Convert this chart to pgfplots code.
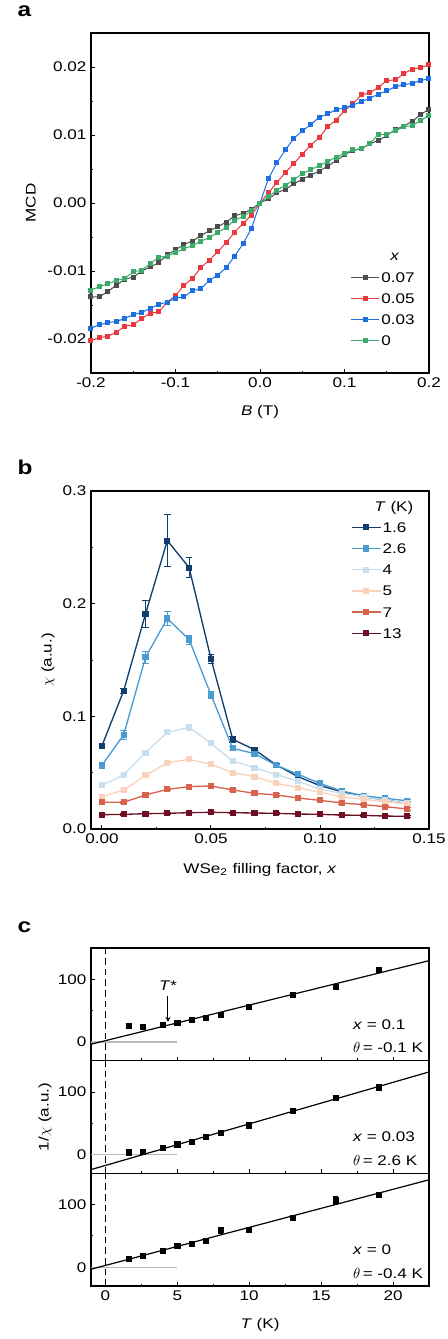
\documentclass[border=0pt]{standalone}
\usepackage{pgfplots}
\pgfplotsset{compat=1.18}
\usepackage{fontspec}
\setmainfont{Liberation Sans}[FakeStretch=1.22]
\definecolor{agray}{HTML}{4D4D4D}
\definecolor{ared}{HTML}{E8393E}
\definecolor{ablue}{HTML}{1F6FE0}
\definecolor{agreen}{HTML}{3BAA6B}
\definecolor{bA}{HTML}{123D6F}
\definecolor{bB}{HTML}{4A9BD0}
\definecolor{bC}{HTML}{C9DFEE}
\definecolor{bD}{HTML}{FAD2BC}
\definecolor{bE}{HTML}{D9624F}
\definecolor{bF}{HTML}{6E0E24}
\pgfplotsset{
  every axis/.append style={
    scale only axis,
    tick align=inside,
    xtick pos=bottom, ytick pos=left,
    axis line style={line width=1pt},
    every tick/.style={line width=0.7pt, black},
    major tick length=3pt, minor tick length=1.8pt,
    /pgf/number format/assume math mode=true,
    tick label style={font=\fontsize{10.5}{12}\selectfont},
    label style={font=\fontsize{10.5}{12}\selectfont},
    scaled ticks=false,
    clip=false,
    legend cell align=left,
    legend image code/.code={\draw[mark repeat=2,mark phase=2,#1] plot coordinates {(0cm,0cm) (0.38cm,0cm) (0.76cm,0cm)};},
  },
  aser/.style={line width=0.75pt, mark=square*, mark size=1.5pt, mark options={solid}},
  bser/.style={line width=1pt, mark=square*, mark size=1.8pt, mark options={solid},
    error bars/.cd, y dir=both, y explicit, error bar style={line width=0.6pt}, error mark options={rotate=90, mark size=2.5pt, line width=0.6pt}, /pgfplots/.cd},
  cser/.style={only marks, mark=square*, mark size=1.9pt, black,
    error bars/.cd, y dir=both, y explicit, error bar style={line width=0.6pt}, error mark options={rotate=90, mark size=2pt, line width=0.6pt}, /pgfplots/.cd},
  cax/.style={width=253.5pt, height=84.5pt, anchor=north west,
    xmin=-1, xmax=22.5, ymin=-30, ymax=150,
    xtick={0,5,10,15,20}, minor xtick={2.5,7.5,12.5,17.5},
    ytick={0,100}, minor ytick={50}},
}
\begin{document}
\begin{tikzpicture}[font=\fontsize{10.5}{12}\selectfont]
\useasboundingbox (0,0) rectangle (335.25pt,-1004.25pt);
% ---------------- panel a ----------------
\node[anchor=base west, font=\fontsize{15}{18}\selectfont\bfseries] at (9.75pt,-12pt) {a};
\begin{axis}[at={(68.25pt,-24.75pt)}, anchor=north west, width=253.5pt, height=255pt,
  xmin=-0.2, xmax=0.2, ymin=-0.025, ymax=0.025,
  xtick={-0.2,-0.1,0,0.1,0.2}, minor xtick={-0.15,-0.05,0.05,0.15},
  ytick={-0.02,-0.01,0,0.01,0.02}, minor ytick={-0.015,-0.005,0.005,0.015},
  xticklabel style={/pgf/number format/.cd,fixed,fixed zerofill,precision=1},
  yticklabel style={/pgf/number format/.cd,fixed,fixed zerofill,precision=2},
  xlabel={\textit{B} (T)}, ylabel={MCD},
  xlabel style={at={(axis description cs:0.5,-0.115)}, anchor=center},
  ylabel style={at={(axis description cs:-0.178,0.5)}, anchor=center},
  legend style={at={(axis description cs:0.962,0.301)}, anchor=north east, draw=none, fill=none, inner sep=0pt, row sep=6.25pt,
    nodes={inner sep=1pt, text height=7.5pt, text depth=0pt, anchor=west}, font=\fontsize{10.5}{12}\selectfont},
]
\addplot[color=agray, aser] coordinates {
(-0.20,-0.0138)(-0.19,-0.0138)(-0.18,-0.0130)(-0.17,-0.0121)(-0.16,-0.0112)(-0.15,-0.0109)(-0.14,-0.0100)(-0.13,-0.0094)(-0.12,-0.0088)(-0.11,-0.0076)(-0.10,-0.0069)(-0.09,-0.0061)(-0.08,-0.0056)(-0.07,-0.0048)(-0.06,-0.0041)(-0.05,-0.0035)(-0.04,-0.0028)(-0.03,-0.0019)(-0.02,-0.0015)(-0.01,-0.0009)(0.00,0.0000)
(0.01,0.0006)(0.02,0.0015)(0.03,0.0020)(0.04,0.0028)(0.05,0.0035)(0.06,0.0041)(0.07,0.0047)(0.08,0.0054)(0.09,0.0062)(0.10,0.0071)(0.11,0.0077)(0.12,0.0080)(0.13,0.0087)(0.14,0.0092)(0.15,0.0099)(0.16,0.0108)(0.17,0.0113)(0.18,0.0120)(0.19,0.0130)(0.20,0.0138)};
\addlegendentry{0.07}
\addplot[color=ared, aser] coordinates {
(-0.20,-0.0202)(-0.19,-0.0198)(-0.18,-0.0196)(-0.17,-0.0190)(-0.16,-0.0181)(-0.15,-0.0179)(-0.14,-0.0170)(-0.13,-0.0162)(-0.12,-0.0160)(-0.11,-0.0146)(-0.10,-0.0136)(-0.09,-0.0121)(-0.08,-0.0111)(-0.07,-0.0095)(-0.06,-0.0084)(-0.05,-0.0072)(-0.04,-0.0058)(-0.03,-0.0043)(-0.02,-0.0030)(-0.01,-0.0018)(0.00,0.0000)
(0.01,0.0015)(0.02,0.0030)(0.03,0.0045)(0.04,0.0058)(0.05,0.0072)(0.06,0.0085)(0.07,0.0096)(0.08,0.0112)(0.09,0.0122)(0.10,0.0136)(0.11,0.0146)(0.12,0.0159)(0.13,0.0162)(0.14,0.0170)(0.15,0.0180)(0.16,0.0181)(0.17,0.0190)(0.18,0.0197)(0.19,0.0199)(0.20,0.0203)};
\addlegendentry{0.05}
\addplot[color=ablue, aser] coordinates {
(-0.20,-0.0184)(-0.19,-0.0179)(-0.18,-0.0176)(-0.17,-0.0174)(-0.16,-0.0170)(-0.15,-0.0164)(-0.14,-0.0161)(-0.13,-0.0155)(-0.12,-0.0149)(-0.11,-0.0146)(-0.10,-0.0140)(-0.09,-0.0138)(-0.08,-0.0129)(-0.07,-0.0126)(-0.06,-0.0114)(-0.05,-0.0106)(-0.04,-0.0095)(-0.03,-0.0078)(-0.02,-0.0060)(-0.01,-0.0037)(0.00,0.0000)
(0.01,0.0036)(0.02,0.0059)(0.03,0.0078)(0.04,0.0095)(0.05,0.0106)(0.06,0.0115)(0.07,0.0126)(0.08,0.0131)(0.09,0.0137)(0.10,0.0140)(0.11,0.0144)(0.12,0.0149)(0.13,0.0154)(0.14,0.0160)(0.15,0.0165)(0.16,0.0171)(0.17,0.0174)(0.18,0.0176)(0.19,0.0180)(0.20,0.0183)};
\addlegendentry{0.03}
\addplot[color=agreen, aser] coordinates {
(-0.20,-0.0128)(-0.19,-0.0123)(-0.18,-0.0119)(-0.17,-0.0114)(-0.16,-0.0111)(-0.15,-0.0101)(-0.14,-0.0099)(-0.13,-0.0089)(-0.12,-0.0080)(-0.11,-0.0078)(-0.10,-0.0073)(-0.09,-0.0067)(-0.08,-0.0063)(-0.07,-0.0056)(-0.06,-0.0051)(-0.05,-0.0043)(-0.04,-0.0036)(-0.03,-0.0025)(-0.02,-0.0020)(-0.01,-0.0011)(0.00,0.0000)
(0.01,0.0009)(0.02,0.0019)(0.03,0.0026)(0.04,0.0034)(0.05,0.0043)(0.06,0.0049)(0.07,0.0055)(0.08,0.0061)(0.09,0.0067)(0.10,0.0073)(0.11,0.0078)(0.12,0.0080)(0.13,0.0087)(0.14,0.0101)(0.15,0.0101)(0.16,0.0106)(0.17,0.0112)(0.18,0.0114)(0.19,0.0121)(0.20,0.0129)};
\addlegendentry{0}
\node[anchor=center] at (axis description cs:0.899,0.341) {\textit{x}};
\end{axis}
% ---------------- panel b ----------------
\node[anchor=base west, font=\fontsize{15}{18}\selectfont\bfseries] at (9.75pt,-355.5pt) {b};
\begin{axis}[at={(68.25pt,-368.25pt)}, anchor=north west, width=253.5pt, height=253.5pt,
  xmin=-0.005, xmax=0.15, ymin=0, ymax=0.3,
  xtick={0,0.05,0.1,0.15}, minor xtick={0.025,0.075,0.125},
  ytick={0,0.1,0.2,0.3}, minor ytick={0.05,0.15,0.25},
  xticklabel style={/pgf/number format/.cd,fixed,fixed zerofill,precision=2},
  yticklabel style={/pgf/number format/.cd,fixed,fixed zerofill,precision=1},
  xlabel={WSe\textsubscript{2} filling factor, \textit{x}}, ylabel={$\chi$ (a.u.)},
  xlabel style={at={(axis description cs:0.5,-0.121)}, anchor=center},
  ylabel style={at={(axis description cs:-0.127,0.5)}, anchor=center},
  legend style={at={(axis description cs:0.938,0.912)}, anchor=north east, draw=none, fill=none, inner sep=0pt, row sep=6.4pt,
    nodes={inner sep=1pt, text height=7.5pt, text depth=0pt, anchor=west}, font=\fontsize{10.5}{12}\selectfont},
]
\addplot[color=bA, bser] coordinates {
(0.00,0.0737) +- (0,0.002) (0.01,0.1228) +- (0,0.002) (0.02,0.1909) +- (0,0.012) (0.03,0.2560) +- (0,0.023) (0.04,0.2320) +- (0,0.009) (0.05,0.1512) +- (0,0.004) (0.06,0.0796) +- (0,0.003) (0.07,0.0704) +- (0,0.001) (0.08,0.0568) +- (0,0.001) (0.09,0.0464) +- (0,0.001) (0.10,0.0385) +- (0,0.001) (0.11,0.0331) +- (0,0.001) (0.12,0.0287) +- (0,0.001) (0.13,0.0257) +- (0,0.001) (0.14,0.0228) +- (0,0.001)};
\addlegendentry{1.6}
\addplot[color=bB, bser] coordinates {
(0.00,0.0565) +- (0,0.003) (0.01,0.0837) +- (0,0.004) (0.02,0.1524) +- (0,0.005) (0.03,0.1868) +- (0,0.0065) (0.04,0.1682) +- (0,0.004) (0.05,0.1192) +- (0,0.003) (0.06,0.0716) +- (0,0.002) (0.07,0.0669) +- (0,0.001) (0.08,0.0565) +- (0,0.001) (0.09,0.0485) +- (0,0.001) (0.10,0.0405) +- (0,0.001) (0.11,0.0337) +- (0,0.001) (0.12,0.0296) +- (0,0.001) (0.13,0.0272) +- (0,0.001) (0.14,0.0251) +- (0,0.001)};
\addlegendentry{2.6}
\addplot[color=bC, bser] coordinates {
(0.00,0.0388) +- (0,0.001) (0.01,0.0479) +- (0,0.001) (0.02,0.0678) +- (0,0.002) (0.03,0.0858) +- (0,0.002) (0.04,0.0902) +- (0,0.003) (0.05,0.0760) +- (0,0.001) (0.06,0.0604) +- (0,0.001) (0.07,0.0544) +- (0,0.001) (0.08,0.0482) +- (0,0.001) (0.09,0.0426) +- (0,0.001) (0.10,0.0352) +- (0,0.001) (0.11,0.0317) +- (0,0.001) (0.12,0.0287) +- (0,0.001) (0.13,0.0257) +- (0,0.001) (0.14,0.0228) +- (0,0.001)};
\addlegendentry{4}
\addplot[color=bD, bser] coordinates {
(0.00,0.0287) +- (0,0.001) (0.01,0.0346) +- (0,0.001) (0.02,0.0476) +- (0,0.001) (0.03,0.0589) +- (0,0.001) (0.04,0.0618) +- (0,0.001) (0.05,0.0574) +- (0,0.001) (0.06,0.0500) +- (0,0.001) (0.07,0.0464) +- (0,0.001) (0.08,0.0405) +- (0,0.001) (0.09,0.0367) +- (0,0.001) (0.10,0.0325) +- (0,0.001) (0.11,0.0287) +- (0,0.001) (0.12,0.0263) +- (0,0.001) (0.13,0.0243) +- (0,0.001) (0.14,0.0219) +- (0,0.001)};
\addlegendentry{5}
\addplot[color=bE, bser] coordinates {
(0.00,0.0237) +- (0,0.001) (0.01,0.0237) +- (0,0.001) (0.02,0.0302) +- (0,0.001) (0.03,0.0352) +- (0,0.001) (0.04,0.0376) +- (0,0.001) (0.05,0.0382) +- (0,0.001) (0.06,0.0346) +- (0,0.001) (0.07,0.0317) +- (0,0.001) (0.08,0.0302) +- (0,0.001) (0.09,0.0275) +- (0,0.001) (0.10,0.0254) +- (0,0.001) (0.11,0.0231) +- (0,0.001) (0.12,0.0216) +- (0,0.001) (0.13,0.0198) +- (0,0.001) (0.14,0.0178) +- (0,0.001)};
\addlegendentry{7}
\addplot[color=bF, bser] coordinates {
(0.00,0.0127) +- (0,0.0005) (0.01,0.0130) +- (0,0.0005) (0.02,0.0136) +- (0,0.0005) (0.03,0.0139) +- (0,0.0005) (0.04,0.0145) +- (0,0.0005) (0.05,0.0148) +- (0,0.0005) (0.06,0.0145) +- (0,0.0005) (0.07,0.0142) +- (0,0.0005) (0.08,0.0139) +- (0,0.0005) (0.09,0.0133) +- (0,0.0005) (0.10,0.0130) +- (0,0.0005) (0.11,0.0124) +- (0,0.0005) (0.12,0.0121) +- (0,0.0005) (0.13,0.0115) +- (0,0.0005) (0.14,0.0112) +- (0,0.0005)};
\addlegendentry{13}
\node[anchor=center] at (axis description cs:0.896,0.950) {\textit{T} (K)};
\end{axis}
% ---------------- panel c ----------------
\node[anchor=base west, font=\fontsize{15}{18}\selectfont\bfseries] at (9.75pt,-699pt) {c};
\begin{axis}[cax, at={(68.25pt,-711pt)}, xticklabels={}]
\addplot[gray!55, line width=1pt] coordinates {(-1,0) (5,0)};
\draw[dashed, line width=0.8pt, dash pattern=on 5pt off 3pt] (axis cs:0,-30) -- (axis cs:0,150);
\addplot[black, line width=0.9pt] coordinates {(-1,-3.7) (22.5,129.8)};
\addplot[cser] coordinates {(1.6,26) +- (0,1) (2.6,24.5) +- (0,1) (4,27.7) +- (0,1) (5,30.9) +- (0,1) (6,35) +- (0,1) (7,38.8) +- (0,1) (8,44) +- (0,1) (10,55.9) +- (0,1.5) (13,75.5) +- (0,1.5) (16,87.8) +- (0,3) (19,115.4) +- (0,2.5)};
\draw[-stealth, line width=0.7pt] (axis cs:4.35,74) -- (axis cs:4.35,32);
\node[anchor=center] at (axis cs:4.35,90) {\textit{T*}};
\node[anchor=west] at (axis cs:16.9,28.2) {\textit{x} = 0.1};
\node[anchor=west] at (axis cs:16.9,-8.5) {$\theta$\,= -0.1 K};
\end{axis}
\begin{axis}[cax, at={(68.25pt,-795.5pt)}, xticklabels={}, ylabel={1/$\chi$ (a.u.)},
  ylabel style={at={(axis description cs:-0.136,0.5)}, anchor=center}]
\addplot[gray!55, line width=1pt] coordinates {(-1,0) (5,0)};
\draw[dashed, line width=0.8pt, dash pattern=on 5pt off 3pt] (axis cs:0,-30) -- (axis cs:0,150);
\addplot[black, line width=0.9pt] coordinates {(-1,-24) (22.5,132)};
\addplot[cser] coordinates {(1.6,3.7) +- (0,1) (2.6,4.8) +- (0,1.5) (4,11.2) +- (0,1) (5,16.5) +- (0,1) (6,20.2) +- (0,1) (7,27.7) +- (0,1) (8,34.6) +- (0,1) (10,46.8) +- (0,1) (13,70.7) +- (0,1.5) (16,90.4) +- (0,3.5) (19,107.5) +- (0,2)};
\node[anchor=west] at (axis cs:16.9,29.2) {\textit{x} = 0.03};
\node[anchor=west] at (axis cs:16.9,-9.1) {$\theta$\,= 2.6 K};
\end{axis}
\begin{axis}[cax, at={(68.25pt,-880pt)}, xlabel={\textit{T} (K)},
  xlabel style={at={(axis description cs:0.5,-0.345)}, anchor=center}]
\addplot[gray!55, line width=1pt] coordinates {(-1,0) (5,0)};
\draw[dashed, line width=0.8pt, dash pattern=on 5pt off 3pt] (axis cs:0,-30) -- (axis cs:0,150);
\addplot[black, line width=0.9pt] coordinates {(-1,-3.2) (22.5,139.7)};
\addplot[cser] coordinates {(1.6,13.2) +- (0,1.5) (2.6,18) +- (0,1) (4,25.9) +- (0,1) (5,34.9) +- (0,2) (6,38.1) +- (0,1.5) (7,41.8) +- (0,2.5) (8,59.3) +- (0,5) (10,59.3) +- (0,2.5) (13,78.3) +- (0,3) (16,107) +- (0,6) (19,115.3) +- (0,2)};
\node[anchor=west] at (axis cs:16.9,28.6) {\textit{x} = 0};
\node[anchor=west] at (axis cs:16.9,-9.5) {$\theta$\,= -0.4 K};
\end{axis}
\end{tikzpicture}
\end{document}
